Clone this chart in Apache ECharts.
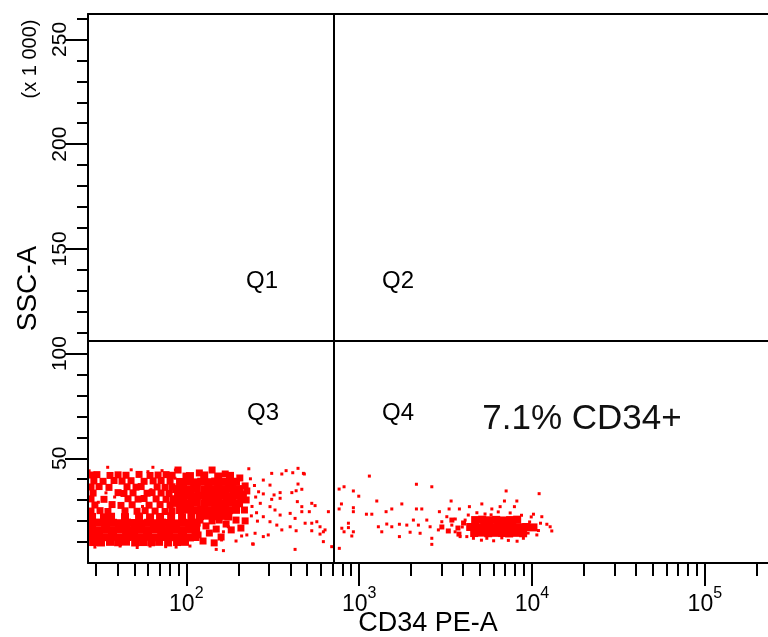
<!DOCTYPE html>
<html>
<head>
<meta charset="utf-8">
<title>CD34 PE-A vs SSC-A</title>
<script src="https://cdn.jsdelivr.net/npm/echarts@6/dist/echarts.min.js"></script>
<style>
  html, body { margin: 0; padding: 0; background: #fff; }
  #chart { width: 768px; height: 637px; }
</style>
</head>
<body>
<div id="chart"></div>
<script>
// axis ranges (x: CD34 PE-A, log; y: SSC-A in thousands)
const xMin = 27;
const xMax = 232000;
const yMax = 262.143;

// ticks
const xMajorTicks = [100, 1000, 10000, 100000];
const xMinorTicks = [30, 40, 50, 60, 70, 80, 90,
  200, 300, 400, 500, 600, 700, 800, 900,
  2000, 3000, 4000, 5000, 6000, 7000, 8000, 9000,
  20000, 30000, 40000, 50000, 60000, 70000, 80000, 90000, 200000];
const yMajorTicks = [50, 100, 150, 200, 250];
const yMinorTicks = [10, 20, 30, 40, 60, 70, 80, 90, 110, 120, 130, 140,
  160, 170, 180, 190, 210, 220, 230, 240, 260];

// quadrant gate
const quadrantX = 711;
const quadrantY = 106.3;
const quadrantNames = ['Q1', 'Q2', 'Q3', 'Q4'];
const gateNote = '7.1% CD34+';

// events: [CD34 PE-A, SSC-A (x1000)]
// solid parts of the negative population
const q3Core = [
  [28.5, 22.0], [33.4, 21.8], [36.7, 22.1], [44.2, 21.9], [53.3, 22.2], [61.7, 21.8], [70.5, 22.0], [81.7, 22.3], [94.5, 21.9], [107, 22.1],
  [28.5, 19.1], [31.3, 19.3], [34.3, 18.9], [37.7, 19.2], [41.4, 19.0], [45.4, 19.3], [49.9, 19.1], [54.8, 18.9], [60.1, 19.2], [66.0, 19.0], [72.4, 19.3], [79.5, 19.1], [87.3, 18.9], [95.7, 19.2], [105, 19.0], [115, 19.3],
  [28.1, 15.8], [30.9, 15.6], [33.9, 15.9], [37.2, 15.7], [40.8, 16.0], [44.8, 15.8], [49.2, 15.6], [54.0, 15.9], [59.3, 15.7], [65.1, 16.0], [71.5, 15.8], [78.5, 15.6], [86.1, 15.9], [94.5, 15.7], [104, 16.0], [114, 15.8],
  [28.5, 12.4], [31.3, 12.6], [34.3, 12.3], [37.7, 12.5], [41.4, 12.2], [45.4, 12.4], [49.9, 12.6], [54.8, 12.3], [60.1, 12.5], [66.0, 12.2], [72.4, 12.4], [79.5, 12.6], [87.3, 12.3], [95.7, 12.5], [105, 12.2], [113, 12.4],
  [28.9, 10.0], [32.1, 9.8], [36.2, 10.1], [40.3, 9.9], [44.8, 10.2], [50.6, 9.8], [56.2, 10.0], [62.6, 9.9], [69.6, 10.1], [78.5, 9.8], [88.4, 10.0], [98.3, 10.1],
  [105, 41.5], [127, 41.8], [153, 41.3], [179, 41.6],
  [92.0, 38.7], [101, 38.9], [111, 38.5], [122, 38.8], [134, 38.6], [147, 38.9], [161, 38.7], [177, 38.5], [194, 38.8],
  [87.3, 35.3], [95.7, 35.5], [105, 35.2], [115, 35.4], [127, 35.1], [139, 35.3], [153, 35.5], [168, 35.2], [184, 35.4], [202, 35.3],
  [89.6, 32.0], [98.3, 32.2], [108, 31.9], [118, 32.1], [130, 31.8], [143, 32.0], [157, 32.2], [172, 31.9], [189, 32.1], [208, 31.8],
  [87.3, 28.7], [95.7, 28.9], [105, 28.6], [115, 28.8], [127, 28.5], [139, 28.7], [153, 28.9], [168, 28.6], [184, 28.8], [202, 28.5],
  [92.0, 25.3], [101, 25.5], [111, 25.2], [122, 25.4], [134, 25.1], [147, 25.3], [161, 25.5], [177, 25.2], [194, 25.4],
  [120, 22.4], [132, 22.6], [145, 22.3], [159, 22.5], [175, 22.2]
];

// speckled parts of the negative population
const q3Mid = [
  [28.1, 42.0], [30.4, 42.2], [36.2, 41.8], [40.3, 42.1], [44.8, 41.9], [53.3, 42.3], [61.7, 41.8], [68.7, 42.0], [76.4, 42.2], [82.8, 41.9],
  [29.2, 39.2], [33.0, 39.0], [38.2, 39.4], [42.5, 39.1], [47.9, 39.3], [57.0, 39.0], [64.3, 39.2], [71.5, 39.4], [80.6, 39.1],
  [28.1, 36.3], [31.3, 36.5], [35.7, 36.1], [45.4, 36.4], [51.2, 36.2], [54.8, 36.5], [67.8, 36.3], [75.4, 36.1], [82.8, 36.4],
  [28.9, 33.4], [40.3, 33.6], [43.6, 33.2], [49.2, 33.5], [59.3, 33.3], [63.4, 33.6], [71.5, 33.4], [79.5, 33.2],
  [28.1, 30.6], [33.4, 30.4], [46.0, 30.7], [52.6, 30.5], [57.0, 30.8], [66.9, 30.6], [76.4, 30.4], [83.9, 30.7],
  [29.6, 27.7], [37.2, 27.9], [41.9, 27.5], [48.6, 27.8], [60.9, 27.6], [70.5, 27.9], [80.6, 27.7],
  [28.1, 24.8], [31.7, 25.0], [35.2, 24.6], [44.2, 24.9], [51.9, 24.7], [57.8, 25.0], [66.0, 24.8], [75.4, 24.6], [82.8, 24.9],
  [120, 20.5], [130, 17.7], [141, 20.1], [136, 14.3], [149, 16.2], [159, 12.4], [170, 18.6], [125, 10.5], [145, 9.6], [182, 15.8],
  [194, 20.5], [207, 16.7], [117, 13.4], [155, 20.5], [219, 20.1],
  [119, 43.0], [141, 44.4], [99.6, 41.5], [168, 42.5], [204, 40.6], [219, 36.8], [222, 30.1], [217, 25.3], [89.6, 44.4], [214, 33.0], [224, 34.4]
];

// single events left of the gate
const q3Events = [
  [443, 45.2], [482, 42.5], [413, 43.1], [378, 44.1], [357, 42.5], [312, 42.8], [279, 39.6], [305, 37.2], [443, 37.7], [432, 34.5],
  [466, 35.2], [408, 33.6], [349, 33.6], [322, 32.5], [279, 33.0], [312, 30.4], [349, 30.9], [439, 29.3], [532, 28.5], [556, 27.4],
  [466, 26.9], [466, 24.5], [515, 24.5], [664, 24.5], [399, 23.7], [349, 22.9], [326, 25.3], [305, 26.9], [279, 22.1], [426, 21.3],
  [487, 19.0], [532, 19.0], [569, 19.7], [594, 17.3], [532, 15.4], [594, 13.8], [635, 15.8], [432, 15.4], [399, 17.3], [357, 15.8],
  [334, 18.1], [305, 19.7], [298, 13.4], [279, 12.6], [250, 14.2], [242, 9.1], [224, 13.4], [209, 12.9], [194, 10.5], [175, 17.3],
  [164, 14.9], [160, 11.0], [149, 6.5], [164, 5.9], [426, 6.5], [621, 10.2], [694, 7.8], [244, 9.0], [476, 42.8], [621, 14.9],
  [35.1, 45.7], [60.0, 43.6], [64.1, 45.7], [72.4, 44.1], [86.5, 44.4], [27.4, 44.0],
  [29.6, 7.6], [41.4, 8.1], [61.7, 8.1], [87.3, 7.6], [105, 8.1], [52.0, 7.4], [76.0, 7.8],
  [34.3, 33.5], [31.0, 29.0], [38.5, 31.5], [55.8, 27.0], [62.5, 35.0], [86.0, 40.5], [48.0, 44.5],
  [235, 40.2], [248, 37.0], [262, 34.0], [240, 27.0], [255, 24.0], [230, 45.0], [268, 28.5], [252, 31.5], [238, 22.5], [258, 20.0]
];

// CD34+ population
const q4Core = [
  [4690, 20.5], [5150, 20.7], [5650, 20.4], [6210, 20.6], [6810, 20.3], [7480, 20.5], [8210, 20.7],
  [4390, 17.2], [4820, 17.0], [5290, 17.3], [5810, 17.1], [6380, 17.2], [7000, 17.0], [7690, 17.3], [8440, 17.1], [9270, 17.2], [10200, 17.0],
  [4630, 14.3], [5080, 14.5], [5580, 14.2], [6120, 14.4], [6720, 14.3], [7380, 14.1], [8100, 14.4], [8890, 14.2]
];
const q4Mid = [[3440, 20.5], [3730, 16.7], [4020, 19.1], [3280, 15.3], [3780, 13.8], [3010, 17.2]];
const q4Events = [
  [1146, 41.5], [766, 35.3], [818, 36.4], [926, 34.4], [995, 31.9], [790, 28.2], [766, 25.8], [926, 26.4], [926, 24.5], [1102, 23.3],
  [1184, 23.3], [1265, 29.6], [2145, 37.6], [2633, 36.4], [1766, 28.2], [1545, 25.8], [1432, 24.5], [2145, 25.8], [2304, 25.8], [2913, 24.5],
  [3315, 25.8], [3405, 29.6], [3803, 25.8], [4345, 26.9], [5127, 28.2], [5857, 25.8], [6542, 26.9], [7087, 34.4], [6929, 29.6], [8173, 29.6],
  [7914, 26.9], [11000, 33.1], [10200, 23.3], [11400, 22.1], [12190, 18.5], [13020, 15.3], [1292, 17.3], [1445, 18.6], [1352, 14.9], [1545, 17.3],
  [1710, 18.5], [1710, 12.6], [1887, 18.1], [1972, 14.7], [2060, 20.5], [2202, 18.1], [2253, 14.2], [2463, 20.5], [2574, 17.3], [2633, 11.8],
  [2633, 8.9], [2874, 15.8], [3008, 19.7], [3216, 22.1], [3437, 18.1], [3592, 14.9], [3839, 12.6], [4197, 12.6], [4584, 11.8], [5479, 11.8],
  [6690, 12.0], [8918, 11.8], [10670, 13.4], [12740, 17.3], [794, 16.6], [818, 14.9], [867, 19.0], [907, 12.9], [926, 14.9], [867, 16.9],
  [768, 7.0],
  [4104, 20.5], [3950, 17.2], [9690, 19.6], [10430, 16.7], [9500, 14.3], [4280, 22.9], [5350, 23.4], [7480, 23.9], [6380, 24.4], [11200, 19.0],
  [10900, 15.5], [8700, 22.8], [9900, 22.0], [5800, 23.0], [4800, 24.0], [3600, 21.0], [5100, 10.9], [6000, 10.6], [7300, 10.8], [8200, 10.4]
];

const FONT = '"Liberation Sans", Arial, sans-serif';
const BLACK = '#000';
const RED = '#ff0000';

const chart = echarts.init(document.getElementById('chart'));

function dots(name, data, size) {
  return {
    name: name,
    type: 'scatter',
    data: data,
    symbol: 'rect',
    symbolSize: size,
    itemStyle: { color: RED, opacity: 1 },
    silent: true
  };
}

const series = [
  dots('q3Core', q3Core, 8),
  dots('q3Mid', q3Mid, 7),
  dots('q3Events', q3Events, 3),
  dots('q4Core', q4Core, 8),
  dots('q4Mid', q4Mid, 5),
  dots('q4Events', q4Events, 3)
];

// quadrant lines
series[0].markLine = {
  silent: true,
  symbol: 'none',
  label: { show: false },
  lineStyle: { color: BLACK, width: 2, type: 'solid' },
  data: [{ xAxis: quadrantX }, { yAxis: quadrantY }]
};

const lineStyle = { color: BLACK, width: 2 };

const option = {
  animation: false,
  backgroundColor: '#fff',
  grid: { left: 88, right: 0, top: 14, bottom: 74, containLabel: false, outerBoundsMode: 'none' },
  xAxis: [
    {
      type: 'log', logBase: 10, min: xMin, max: xMax, position: 'bottom', z: 5,
      axisLine: { show: true, onZero: false, lineStyle: lineStyle },
      axisTick: { show: true, customValues: xMajorTicks, length: 23, lineStyle: lineStyle },
      axisLabel: {
        customValues: xMajorTicks,
        margin: 23,
        formatter: (v) => '{b|10}{s|' + Math.round(Math.log10(v)) + '}',
        rich: {
          b: { fontSize: 23, fontFamily: FONT, color: BLACK, lineHeight: 30, verticalAlign: 'bottom' },
          s: { fontSize: 16, fontFamily: FONT, color: BLACK, lineHeight: 14, verticalAlign: 'top' }
        }
      },
      splitLine: { show: false },
      name: 'CD34 PE-A', nameLocation: 'middle', nameGap: 47, nameMoveOverlap: false,
      nameTextStyle: { fontSize: 27, fontFamily: FONT, color: BLACK }
    },
    {
      type: 'log', logBase: 10, min: xMin, max: xMax, position: 'bottom', z: 5,
      axisLine: { show: false, onZero: false },
      axisTick: { show: true, customValues: xMinorTicks, length: 13, lineStyle: lineStyle },
      axisLabel: { show: false },
      splitLine: { show: false }
    },
    {
      type: 'value', min: 0, max: 1, position: 'top', z: 5,
      axisLine: { show: true, onZero: false, lineStyle: lineStyle },
      axisTick: { show: false }, axisLabel: { show: false }, splitLine: { show: false }
    }
  ],
  yAxis: [
    {
      type: 'value', min: 0, max: yMax, position: 'left', z: 5,
      axisLine: { show: true, onZero: false, lineStyle: lineStyle },
      axisTick: { show: true, customValues: yMajorTicks, length: 23, lineStyle: lineStyle },
      axisLabel: { customValues: yMajorTicks, rotate: 90, margin: 17, fontSize: 21, fontFamily: FONT, color: BLACK },
      splitLine: { show: false },
      name: 'SSC-A', nameLocation: 'middle', nameGap: 46, nameRotate: 90, nameMoveOverlap: false,
      nameTextStyle: { fontSize: 28, fontFamily: FONT, color: BLACK }
    },
    {
      type: 'value', min: 0, max: yMax, position: 'left', z: 5,
      axisLine: { show: false, onZero: false },
      axisTick: { show: true, customValues: yMinorTicks, length: 11, lineStyle: lineStyle },
      axisLabel: { show: false },
      splitLine: { show: false }
    }
  ],
  graphic: [
    {
      type: 'text', x: 30, y: 59, rotation: Math.PI / 2, silent: true,
      style: { text: '(x 1 000)', fontSize: 20, fontFamily: FONT, fill: BLACK, textAlign: 'center', textVerticalAlign: 'middle' }
    },
    { type: 'text', x: 262, y: 281, silent: true, style: { text: quadrantNames[0], fontSize: 24, fontFamily: FONT, fill: BLACK, textAlign: 'center', textVerticalAlign: 'middle' } },
    { type: 'text', x: 398, y: 281, silent: true, style: { text: quadrantNames[1], fontSize: 24, fontFamily: FONT, fill: BLACK, textAlign: 'center', textVerticalAlign: 'middle' } },
    { type: 'text', x: 263, y: 413, silent: true, style: { text: quadrantNames[2], fontSize: 24, fontFamily: FONT, fill: BLACK, textAlign: 'center', textVerticalAlign: 'middle' } },
    { type: 'text', x: 398, y: 413, silent: true, style: { text: quadrantNames[3], fontSize: 24, fontFamily: FONT, fill: BLACK, textAlign: 'center', textVerticalAlign: 'middle' } },
    { type: 'text', x: 582, y: 419, silent: true, style: { text: gateNote, fontSize: 35, fontFamily: FONT, fill: '#111', textAlign: 'center', textVerticalAlign: 'middle' } }
  ],
  series: series
};

chart.setOption(option);
</script>
</body>
</html>
